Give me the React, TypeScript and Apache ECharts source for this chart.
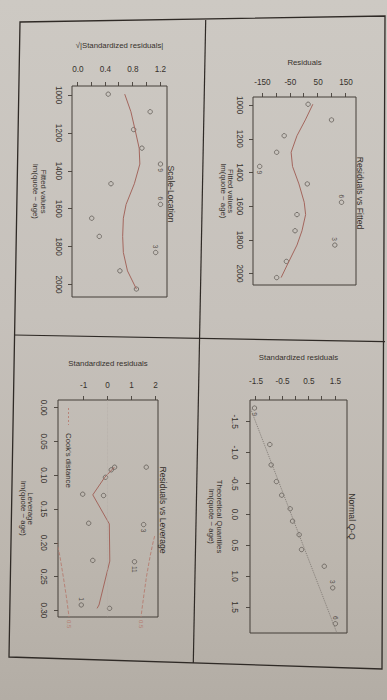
import React, { useEffect, useRef } from "react";
import * as echarts from "echarts";

// ---------- data ----------
// Residuals vs Fitted / Scale-Location (observations ordered by fitted value)
const fittedValues = [995, 1088, 1182, 1280, 1364, 1468, 1577, 1650, 1746, 1831, 1928, 2024];
const residuals = [14, 98, -72, -99, -160, 11, 134, -26, -33, 110, -64, -99];
const residSmooth = [31, 4, -26, -47, -42, -19, 0, 5, -8, -26, -55, -83];
const obsIds = ["", "", "", "", "9", "", "6", "", "", "3", "", ""];
const sqrtStdResid = [0.44, 1.05, 0.81, 0.93, 1.2, 0.48, 1.2, 0.2, 0.31, 1.13, 0.61, 0.85];
const scaleSmooth = [0.68, 0.77, 0.83, 0.89, 0.9, 0.82, 0.7, 0.66, 0.65, 0.66, 0.72, 0.85];

// Normal Q-Q (sorted)
const theoQuantiles = [-1.72, -1.13, -0.8, -0.53, -0.31, -0.09, 0.11, 0.33, 0.57, 0.84, 1.19, 1.77];
const stdResidSorted = [-1.56, -0.98, -0.93, -0.73, -0.53, -0.21, -0.12, 0.13, 0.22, 1.08, 1.4, 1.5];
const qqIds = ["9", "", "", "", "", "", "", "", "", "", "3", "6"];
const qqLineX = [-1.85, 1.92];
const qqLineY = [-1.835, 1.558];

// Residuals vs Leverage
const leverage = [0.088, 0.092, 0.088, 0.103, 0.128, 0.13, 0.171, 0.173, 0.226, 0.228, 0.292, 0.297];
const levStdResid = [1.61, 0.15, 0.29, -0.09, -1.04, -0.17, -0.79, 1.5, -0.62, 1.12, -1.1, 0.08];
const levIds = ["", "", "", "", "", "", "", "3", "", "11", "1", ""];
const levIdPos = ["", "", "", "", "", "", "", "right", "", "right", "left", ""];
const levSmoothX = [0.088, 0.103, 0.129, 0.172, 0.227, 0.292, 0.297];
const levSmoothY = [0.28, -0.12, -0.62, 0.07, 0.09, -0.36, -0.44];
const cookX = [0.19, 0.2, 0.22, 0.25, 0.28, 0.3098];
const cookUpper = [1.96, 1.89, 1.77, 1.62, 1.5, 1.39];
const cookLower = [-2.17, -2.11, -1.99, -1.85, -1.72, -1.61];

// ticks
const fittedTicks = [1000, 1200, 1400, 1600, 1800, 2000];
const residTicks = [-150, -100, -50, 0, 50, 100, 150];
const residTickLabels = [-150, -50, 50, 150];
const qqTicks = [-1.5, -1, -0.5, 0, 0.5, 1, 1.5];
const qqYTickLabels = [-1.5, -0.5, 0.5, 1.5];
const slTicks = [0, 0.2, 0.4, 0.6, 0.8, 1.0, 1.2];
const slTickLabels = [0, 0.4, 0.8, 1.2];
const levTicks = [0, 0.05, 0.1, 0.15, 0.2, 0.25, 0.3];
const levYTicks = [-1, 0, 1, 2];

// ---------- styles ----------
const FONT = "Liberation Sans, Arial, Helvetica, sans-serif";
const TEXT = "#36312c";
const BOX = "#443e38";
const POINT = "#58524c";
const RED = "#a3665d";
const COOK = "#b57d71";
const GRAYLINE = "#847e78";

function xAx(gi: number, min: number, max: number, ticks: number[], labels: number[], fmt: (v: number) => string, margin: number, name: string, nameGap: number, lh: number) {
  return {
    type: "value", gridIndex: gi, min, max, position: "bottom",
    axisLine: { show: false, onZero: false },
    splitLine: { show: false },
    axisTick: { show: true, customValues: ticks, length: 4, lineStyle: { color: BOX, width: 0.9 } },
    axisLabel: { customValues: labels, formatter: fmt, fontSize: 8.2, color: TEXT, margin, fontFamily: FONT },
    name, nameLocation: "middle", nameGap,
    nameTextStyle: { fontSize: 7.8, color: TEXT, lineHeight: lh, fontFamily: FONT },
  };
}
function yAx(gi: number, min: number, max: number, ticks: number[], labels: number[], fmt: (v: number) => string, margin: number, name: string, nameGap: number) {
  return {
    type: "value", gridIndex: gi, min, max, position: "left",
    axisLine: { show: false, onZero: false },
    splitLine: { show: false },
    axisTick: { show: true, customValues: ticks, length: 4, lineStyle: { color: BOX, width: 0.9 } },
    axisLabel: { customValues: labels, formatter: fmt, fontSize: 8.2, color: TEXT, margin, rotate: 90, fontFamily: FONT },
    name, nameLocation: "middle", nameGap, nameRotate: 90,
    nameTextStyle: { fontSize: 7.8, color: TEXT, fontFamily: FONT },
  };
}

const pointStyle = {
  type: "scatter", symbol: "circle", symbolSize: 4.4,
  itemStyle: { color: "rgba(0,0,0,0)", borderColor: POINT, borderWidth: 0.9 },
  silent: true,
};
const idLabel = (text: string, position: string) => ({
  show: true, formatter: text, position, distance: 1.5, fontSize: 6.5, color: TEXT, fontFamily: FONT,
});
const lineStyleSeries = (color: string, type: string, width: number) => ({
  type: "line", showSymbol: false, symbol: "none", silent: true, smooth: false,
  lineStyle: { color, type, width },
});

function title(text: string, x: number, y: number) {
  return {
    type: "text", x, y, silent: true,
    style: { text, fill: TEXT, fontSize: 8.6, fontFamily: FONT, align: "center", verticalAlign: "middle", textAlign: "center", textVerticalAlign: "middle" },
  };
}

export default function App() {
  const ref = useRef<HTMLDivElement>(null);
  useEffect(() => {
    if (!ref.current) return;
    const chart = echarts.init(ref.current, null, { renderer: "svg" });
    const fitMid = (fittedValues[0] + fittedValues[fittedValues.length - 1]) / 2;
    const qqMid = (theoQuantiles[0] + theoQuantiles[theoQuantiles.length - 1]) / 2;

    const option: any = {
      animation: false,
      backgroundColor: "transparent",
      grid: [
        { left: 97, top: 31, width: 188, height: 103 },
        { left: 400, top: 40, width: 233, height: 97 },
        { left: 86, top: 220, width: 211, height: 95 },
        { left: 400, top: 229, width: 217, height: 100 },
      ].map((g) => ({ ...g, show: true, borderColor: BOX, borderWidth: 1, backgroundColor: "transparent", containLabel: false, outerBoundsMode: "none" })),
      xAxis: [
        xAx(0, 952, 2068, fittedTicks, fittedTicks, (v) => String(v), 9.5, "Fitted values\nlm(quote ~ age)", 16, 7),
        xAx(1, -1.85, 1.92, qqTicks, qqTicks, (v) => v.toFixed(1), 12, "Theoretical Quantiles\nlm(quote ~ age)", 26.5, 8),
        xAx(2, 952, 2066, fittedTicks, fittedTicks, (v) => String(v), 9.4, "Fitted values\nlm(quote ~ age)", 24.7, 7.6),
        xAx(3, -0.0114, 0.3098, levTicks, levTicks, (v) => v.toFixed(2), 11, "Leverage\nlm(quote ~ age)", 24.3, 7),
      ],
      yAxis: [
        yAx(0, -184, 186, residTicks, residTickLabels, (v) => String(v), 10.5, "Residuals", 31),
        yAx(1, -1.73, 1.94, qqTicks, qqYTickLabels, (v) => v.toFixed(1), 14.3, "Standardized residuals", 39),
        yAx(2, -0.087, 1.295, slTicks, slTickLabels, (v) => v.toFixed(1), 12.7, "√|Standardized residuals|", 37),
        yAx(3, -2.07, 2.1, levYTicks, levYTicks, (v) => String(v), 11, "Standardized residuals", 32.7),
      ],
      series: [
        // Residuals vs Fitted
        {
          ...pointStyle, xAxisIndex: 0, yAxisIndex: 0,
          data: fittedValues.map((x, i) => ({
            value: [x, residuals[i]],
            label: obsIds[i] ? idLabel(obsIds[i], x > fitMid ? "left" : "right") : { show: false },
          })),
        },
        { ...lineStyleSeries(RED, "solid", 1), xAxisIndex: 0, yAxisIndex: 0, data: fittedValues.map((x, i) => [x, residSmooth[i]]) },
        // Normal Q-Q
        { ...lineStyleSeries(GRAYLINE, "dotted", 1), xAxisIndex: 1, yAxisIndex: 1, data: qqLineX.map((x, i) => [x, qqLineY[i]]) },
        {
          ...pointStyle, xAxisIndex: 1, yAxisIndex: 1,
          data: theoQuantiles.map((x, i) => ({
            value: [x, stdResidSorted[i]],
            label: qqIds[i] ? idLabel(qqIds[i], x > qqMid ? "left" : "right") : { show: false },
          })),
        },
        // Scale-Location
        {
          ...pointStyle, xAxisIndex: 2, yAxisIndex: 2,
          data: fittedValues.map((x, i) => ({
            value: [x, sqrtStdResid[i]],
            label: obsIds[i] ? idLabel(obsIds[i], x > fitMid ? "left" : "right") : { show: false },
          })),
        },
        { ...lineStyleSeries(RED, "solid", 1), xAxisIndex: 2, yAxisIndex: 2, data: fittedValues.map((x, i) => [x, scaleSmooth[i]]) },
        // Residuals vs Leverage
        {
          ...pointStyle, xAxisIndex: 3, yAxisIndex: 3,
          data: leverage.map((x, i) => ({
            value: [x, levStdResid[i]],
            label: levIds[i] ? idLabel(levIds[i], levIdPos[i]) : { show: false },
          })),
          markLine: {
            silent: true, symbol: "none", label: { show: false },
            lineStyle: { type: "dotted", color: "#b4aea7", width: 0.7 },
            data: [{ yAxis: 0 }],
          },
        },
        { ...lineStyleSeries(RED, "solid", 1), xAxisIndex: 3, yAxisIndex: 3, data: levSmoothX.map((x, i) => [x, levSmoothY[i]]) },
        {
          ...lineStyleSeries(COOK, "dashed", 0.9), xAxisIndex: 3, yAxisIndex: 3,
          data: cookX.map((x, i) => [x, cookUpper[i]]),
          endLabel: { show: true, formatter: "0.5", fontSize: 6, color: COOK, distance: 3, fontFamily: FONT },
        },
        {
          ...lineStyleSeries(COOK, "dashed", 0.9), xAxisIndex: 3, yAxisIndex: 3,
          data: cookX.map((x, i) => [x, cookLower[i]]),
          endLabel: { show: true, formatter: "0.5", fontSize: 6, color: COOK, distance: 3, fontFamily: FONT },
        },
      ],
      graphic: [
        {
          type: "polygon", silent: true,
          shape: { points: [[22, 367], [16, 2], [669, 5], [657, 378]] },
          style: { fill: "none", stroke: "#2f2a26", lineWidth: 1.3 },
        },
        { type: "line", silent: true, shape: { x1: 20, y1: 181.3, x2: 663, y2: 193.7 }, style: { stroke: "#2f2a26", lineWidth: 1.2 } },
        { type: "line", silent: true, shape: { x1: 335, y1: 373, x2: 341.7, y2: 2 }, style: { stroke: "#2f2a26", lineWidth: 1.2 } },
        title("Residuals vs Fitted", 193, 27),
        title("Normal Q-Q", 516.5, 35),
        title("Scale-Location", 194, 216),
        title("Residuals vs Leverage", 510, 223.7),
        { type: "line", silent: true, shape: { x1: 408, y1: 318.5, x2: 425, y2: 318.5 }, style: { stroke: COOK, lineWidth: 0.9, lineDash: [2, 2] } },
        {
          type: "text", x: 433, y: 318.5, silent: true,
          style: { text: "Cook's distance", fill: TEXT, fontSize: 7.8, fontFamily: FONT, align: "left", verticalAlign: "middle", textAlign: "left", textVerticalAlign: "middle" },
        },
      ],
    };
    chart.setOption(option);
    return () => chart.dispose();
  }, []);

  return (
    <div
      style={{
        position: "fixed", left: 0, top: 0, width: 387, height: 700, overflow: "hidden",
        background: "linear-gradient(to bottom, #cdc9c3 0%, #c6c1bb 45%, #bcb6ae 80%, #b3ada5 100%)",
      }}
    >
      <div
        style={{
          position: "absolute", left: 0, top: 0, width: 700, height: 387,
          transformOrigin: "0 0", transform: "translateX(387px) rotate(90deg)",
        }}
      >
        <div ref={ref} style={{ width: 700, height: 387 }} />
      </div>
    </div>
  );
}
